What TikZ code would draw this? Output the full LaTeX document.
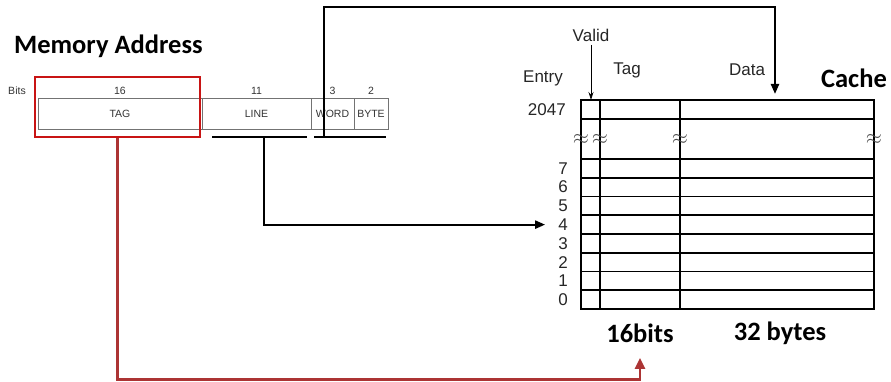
\documentclass[tikz,border=0pt]{standalone}
\usepackage{fontspec}
\setmainfont{Liberation Sans}
\newfontfamily\calibri{Carlito}
\usetikzlibrary{arrows.meta}
\definecolor{selred}{RGB}{200,20,20}
\definecolor{linkred}{RGB}{172,52,52}

\begin{document}
\begin{tikzpicture}[x=1pt, y=-1pt,
  field/.style={draw=black!55, line width=0.9pt, minimum height=31pt, inner sep=0pt,
    font=\fontsize{10.5}{12}\selectfont, text=black!80},
  bitno/.style={font=\fontsize{10.5}{12}\selectfont, text=black!80},
  lbl/.style={font=\fontsize{17}{20}\selectfont, text=black!85},
  title/.style={font=\calibri\bfseries\fontsize{26.5}{30}\selectfont},
  link/.style={line width=2.2pt, -{Triangle[length=10pt,width=8pt]}},
  grid/.style={line width=1.6pt}]
  \useasboundingbox (0,0) rectangle (891,382);
  % Memory address fields
  \node[title, anchor=west, inner sep=0pt] (memaddr) at (14,46) {Memory Address};
  \node[bitno] (bitslbl) at (17,91) {Bits};
  \foreach \nm/\cx/\w/\bits/\txt in {tagf/120/164/16/TAG, linef/256.5/109/11/LINE,
      wordf/332.5/43/3/WORD, bytef/371/34/2/BYTE}{
    \node[field, minimum width=\w pt] (\nm) at (\cx,113.5) {\txt};
    \node[bitno] (\nm-bits) at (\cx,91) {\bits};
  }
  \node[draw=selred, line width=2.7pt, minimum width=165pt, minimum height=60pt,
    inner sep=0pt] (tagsel) at (117.5,107) {};
  % Underlines
  \draw[line width=2.2pt] (212,137) -- (307,137);
  \draw[line width=2.2pt] (314,137) -- (386,137);
  \coordinate (lineu) at (264,137);
  \coordinate (wordu) at (324,137);
  \coordinate (wtop) at (324,7);
  % Cache table
  \def\cl{581} \def\cv{600} \def\ct{680} \def\cr{874}
  \draw[grid] (\cl,100) rectangle (\cr,309);
  \draw[grid] (\cl,119) -- (\cr,119);
  \foreach \k in {0,...,7}{
    \pgfmathsetmacro\yy{159+18.75*\k}
    \draw[grid] (\cl,\yy) -- (\cr,\yy);
  }
  \draw[grid] (\cv,100) -- (\cv,309);
  \draw[grid] (\ct,100) -- (\ct,309);
  \foreach \x in {\cl,\cv,\ct,\cr}{
    \node[font=\fontsize{22}{24}\selectfont, text=black!70, inner sep=0pt] (gap\x) at (\x,139) {$\approx$};
  }
  \coordinate (dtop) at (775,100);
  % Row labels
  \node[lbl, anchor=east, inner sep=0pt] (row2047) at (566,109.5) {2047};
  \foreach \k in {0,...,7}{
    \pgfmathsetmacro\yy{309-18.75*(\k+0.5)}
    \node[lbl, anchor=east, inner sep=0pt] (row\k) at (568,\yy) {\k};
  }
  % Headers
  \node[lbl] (valid) at (591,35) {Valid};
  \node[lbl] (entry) at (543,78) {Entry};
  \node[lbl] (taghd) at (627,70) {Tag};
  \node[lbl] (datahd) at (747,70) {Data};
  \node[title] (cache) at (854,78) {Cache};
  \node[title] (bits16) at (640,333) {16bits};
  \node[title] (bytes32) at (780,333) {32 bytes};
  \coordinate (vcell) at (591,100);
  \draw[line width=0.8pt, -{Stealth[length=8pt,width=5pt]}] (valid.south) -- (vcell);
  % Connectors
  \draw[link, shorten >=6pt] (wordu) -- (wtop) -| (dtop);
  \draw[link, shorten >=13pt] (lineu) |- (row4.west);
  \draw[linkred, line width=2.5pt, -{Triangle[length=11pt,width=10pt]}, shorten >=12pt]
    (tagsel.south) -- ++(0,241) -| (bits16.south);
\end{tikzpicture}
\end{document}
